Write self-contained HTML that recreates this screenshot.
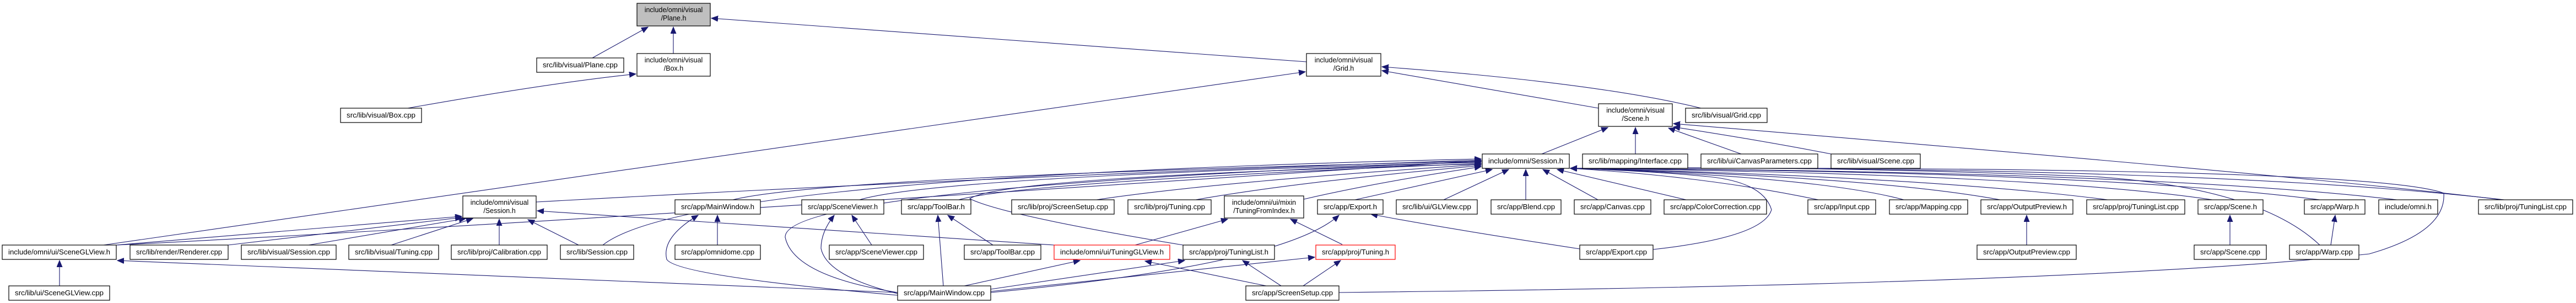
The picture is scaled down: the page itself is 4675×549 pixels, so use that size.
<!DOCTYPE html>
<html><head><meta charset="utf-8"><style>
html,body{margin:0;padding:0;background:#fff;}
svg{display:block;}
text{font-family:"Liberation Sans",sans-serif;font-size:12.5px;fill:#000;text-anchor:middle;}
.n{fill:#fff;stroke:#000;stroke-width:1.2;}
.r{fill:#fff;stroke:#ff0000;stroke-width:1.2;}
.g{fill:#bfbfbf;stroke:#000;stroke-width:1.2;}
path,line{fill:none;stroke:#191970;stroke-width:1.1;}
</style></head><body>
<svg width="4675" height="549" viewBox="0 0 4675 549" xmlns="http://www.w3.org/2000/svg">
<defs>
<marker id="a" markerUnits="userSpaceOnUse" markerWidth="14" markerHeight="12" refX="12" refY="5" orient="auto">
<path d="M0,0 L12,5 L0,10 Z" style="fill:#191970;stroke:#191970;stroke-width:1"/>
</marker>
</defs>
<g marker-end="url(#a)">
<!-- Plane.h -->
<line x1="1075" y1="105" x2="1176" y2="49"/>
<line x1="1222" y1="97" x2="1222" y2="49"/>
<path d="M2371,112 L1291,33"/>
<!-- Box.h -->
<path d="M740,196 Q1000,150 1154,134"/>
<!-- Grid.h -->
<path d="M188,444 L2369,130"/>
<path d="M2901,196 L2508,128"/>
<path d="M3087,196 Q2900,150 2508,121"/>
<!-- Scene.h -->
<line x1="2798" y1="279" x2="2918" y2="231"/>
<line x1="2968" y1="279" x2="2968" y2="231"/>
<line x1="3160" y1="279" x2="3028" y2="232"/>
<path d="M3323,279 Q3200,255 3037,230"/>
<path d="M4540,362 Q4200,320 3037,224"/>
<!-- omni/Session.h left side -->
<path d="M973,366 Q1800,320 2688,290"/>
<path d="M1330,362 Q1500,320 2688,292"/>
<path d="M1560,362 Q1700,320 2688,294"/>
<path d="M1740,362 Q1850,330 2688,296"/>
<path d="M1990,362 Q2200,330 2688,298"/>
<path d="M2170,362 Q2350,330 2688,300"/>
<path d="M2366,361 Q2500,330 2688,302"/>
<path d="M1094,444 Q1250,320 2688,288"/>
<path d="M211,444 Q900,410 2688,291"/>
<path d="M2147,444 Q1820,390 1760,360 Q1820,320 2688,297"/>
<path d="M1629,530 Q1440,500 1425,430 Q1420,340 2688,293"/>
<!-- omni/Session.h bottom -->
<line x1="2459" y1="362" x2="2708" y2="307"/>
<line x1="2620" y1="362" x2="2738" y2="307"/>
<line x1="2769" y1="362" x2="2769" y2="307"/>
<line x1="2900" y1="362" x2="2800" y2="307"/>
<line x1="3060" y1="362" x2="2826" y2="307"/>
<!-- omni/Session.h right side -->
<path d="M3300,362 Q3100,320 2850,305"/>
<path d="M3455,362 Q3300,320 2850,305"/>
<path d="M3630,362 Q3400,320 2850,305"/>
<path d="M3825,362 Q3500,320 2850,305"/>
<path d="M4015,362 Q3700,315 2850,305"/>
<path d="M4210,362 Q3800,310 2850,305"/>
<path d="M4350,362 Q3900,310 2850,305"/>
<path d="M4545,362 Q4000,300 2850,305"/>
<path d="M4210,444 Q4100,340 3800,320 Q3300,300 2850,305"/>
<path d="M2430,530 Q3800,515 4300,460 Q4440,420 4435,350 Q4300,300 2850,305"/>
<path d="M3000,452 Q3200,430 3215,380 Q3200,330 3100,320 Q3000,310 2850,305"/>
<!-- visual/Session.h -->
<path d="M211,444 Q500,420 838,392"/>
<path d="M414,444 L838,394"/>
<path d="M560,444 L845,396"/>
<path d="M710,444 L858,396"/>
<line x1="906" y1="444" x2="906" y2="397"/>
<path d="M1050,444 L958,398"/>
<path d="M1913,444 L975,382"/>
<!-- SceneGLView.h -->
<line x1="108" y1="518" x2="108" y2="472"/>
<path d="M1629,530 L213,472"/>
<!-- MainWindow.h -->
<line x1="1302" y1="444" x2="1302" y2="390"/>
<path d="M1629,535 Q1230,500 1210,470 Q1200,430 1267,390"/>
<!-- SceneViewer.h -->
<line x1="1582" y1="444" x2="1546" y2="390"/>
<path d="M1629,532 Q1500,500 1490,450 Q1490,420 1514,390"/>
<!-- ToolBar.h -->
<line x1="1802" y1="444" x2="1720" y2="390"/>
<line x1="1712" y1="518" x2="1702" y2="390"/>
<!-- TuningFromIndex.h -->
<line x1="2060" y1="444" x2="2228" y2="397"/>
<line x1="2436" y1="443" x2="2342" y2="397"/>
<!-- Export.h -->
<path d="M1798,530 Q2330,480 2430,390"/>
<path d="M2867,451 Q2600,410 2488,388"/>
<!-- TuningGLView.h -->
<line x1="1750" y1="518" x2="1960" y2="472"/>
<line x1="2298" y1="518" x2="2078" y2="473"/>
<!-- TuningList.h -->
<line x1="1798" y1="524" x2="2150" y2="472"/>
<line x1="2325" y1="518" x2="2255" y2="472"/>
<!-- Tuning.h -->
<line x1="1798" y1="528" x2="2386" y2="466"/>
<line x1="2365" y1="518" x2="2433" y2="472"/>
<!-- leaf pairs -->
<line x1="3678" y1="444" x2="3678" y2="390"/>
<line x1="4047" y1="444" x2="4047" y2="390"/>
<line x1="4230" y1="444" x2="4238" y2="390"/>
</g>

<!-- nodes -->
<rect class="g" x="1156" y="6" width="133" height="41"/><text x="1222.5" y="22">include/omni/visual</text><text x="1222.5" y="37">/Plane.h</text>
<rect class="n" x="974" y="105" width="158" height="26"/><text x="1053" y="122" textLength="136" lengthAdjust="spacingAndGlyphs">src/lib/visual/Plane.cpp</text>
<rect class="n" x="1156" y="97" width="133" height="41"/><text x="1222.5" y="113">include/omni/visual</text><text x="1222.5" y="128">/Box.h</text>
<rect class="n" x="2371" y="97" width="135" height="41"/><text x="2438.5" y="113">include/omni/visual</text><text x="2438.5" y="128">/Grid.h</text>
<rect class="n" x="618" y="196" width="147" height="26"/><text x="691.5" y="213" textLength="125" lengthAdjust="spacingAndGlyphs">src/lib/visual/Box.cpp</text>
<rect class="n" x="2901" y="188" width="134" height="41"/><text x="2968" y="204">include/omni/visual</text><text x="2968" y="219">/Scene.h</text>
<rect class="n" x="3059" y="196" width="148" height="26"/><text x="3133" y="213" textLength="126" lengthAdjust="spacingAndGlyphs">src/lib/visual/Grid.cpp</text>

<rect class="n" x="2690" y="279" width="158" height="26"/><text x="2769" y="296" textLength="136" lengthAdjust="spacingAndGlyphs">include/omni/Session.h</text>
<rect class="n" x="2872" y="279" width="191" height="26"/><text x="2967.5" y="296" textLength="169" lengthAdjust="spacingAndGlyphs">src/lib/mapping/Interface.cpp</text>
<rect class="n" x="3087" y="279" width="212" height="26"/><text x="3193" y="296" textLength="190" lengthAdjust="spacingAndGlyphs">src/lib/ui/CanvasParameters.cpp</text>
<rect class="n" x="3323" y="279" width="162" height="26"/><text x="3404" y="296" textLength="140" lengthAdjust="spacingAndGlyphs">src/lib/visual/Scene.cpp</text>

<rect class="n" x="840" y="355" width="133" height="40"/><text x="906.5" y="371">include/omni/visual</text><text x="906.5" y="386">/Session.h</text>
<rect class="n" x="1225" y="362" width="155" height="26"/><text x="1302.5" y="379" textLength="133" lengthAdjust="spacingAndGlyphs">src/app/MainWindow.h</text>
<rect class="n" x="1455" y="362" width="149" height="26"/><text x="1529.5" y="379" textLength="127" lengthAdjust="spacingAndGlyphs">src/app/SceneViewer.h</text>
<rect class="n" x="1636" y="362" width="126" height="26"/><text x="1699" y="379" textLength="104" lengthAdjust="spacingAndGlyphs">src/app/ToolBar.h</text>
<rect class="n" x="1836" y="362" width="186" height="26"/><text x="1929" y="379" textLength="164" lengthAdjust="spacingAndGlyphs">src/lib/proj/ScreenSetup.cpp</text>
<rect class="n" x="2047" y="362" width="151" height="26"/><text x="2122.5" y="379" textLength="129" lengthAdjust="spacingAndGlyphs">src/lib/proj/Tuning.cpp</text>
<rect class="n" x="2222" y="355" width="144" height="40"/><text x="2294" y="371">include/omni/ui/mixin</text><text x="2294" y="386">/TuningFromIndex.h</text>
<rect class="n" x="2391" y="362" width="119" height="26"/><text x="2450.5" y="379" textLength="97" lengthAdjust="spacingAndGlyphs">src/app/Export.h</text>
<rect class="n" x="2534" y="362" width="147" height="26"/><text x="2607.5" y="379" textLength="125" lengthAdjust="spacingAndGlyphs">src/lib/ui/GLView.cpp</text>
<rect class="n" x="2706" y="362" width="127" height="26"/><text x="2769.5" y="379" textLength="105" lengthAdjust="spacingAndGlyphs">src/app/Blend.cpp</text>
<rect class="n" x="2857" y="362" width="139" height="26"/><text x="2926.5" y="379" textLength="117" lengthAdjust="spacingAndGlyphs">src/app/Canvas.cpp</text>
<rect class="n" x="3020" y="362" width="186" height="26"/><text x="3113" y="379" textLength="164" lengthAdjust="spacingAndGlyphs">src/app/ColorCorrection.cpp</text>
<rect class="n" x="3281" y="362" width="123" height="26"/><text x="3342.5" y="379" textLength="101" lengthAdjust="spacingAndGlyphs">src/app/Input.cpp</text>
<rect class="n" x="3429" y="362" width="142" height="26"/><text x="3500" y="379" textLength="120" lengthAdjust="spacingAndGlyphs">src/app/Mapping.cpp</text>
<rect class="n" x="3595" y="362" width="167" height="26"/><text x="3678.5" y="379" textLength="145" lengthAdjust="spacingAndGlyphs">src/app/OutputPreview.h</text>
<rect class="n" x="3787" y="362" width="178" height="26"/><text x="3876" y="379" textLength="156" lengthAdjust="spacingAndGlyphs">src/app/proj/TuningList.cpp</text>
<rect class="n" x="3989" y="362" width="118" height="26"/><text x="4048" y="379" textLength="96" lengthAdjust="spacingAndGlyphs">src/app/Scene.h</text>
<rect class="n" x="4182" y="362" width="110" height="26"/><text x="4237" y="379" textLength="88" lengthAdjust="spacingAndGlyphs">src/app/Warp.h</text>
<rect class="n" x="4317" y="362" width="107" height="26"/><text x="4370.5" y="379" textLength="85" lengthAdjust="spacingAndGlyphs">include/omni.h</text>
<rect class="n" x="4498" y="362" width="171" height="26"/><text x="4583.5" y="379" textLength="149" lengthAdjust="spacingAndGlyphs">src/lib/proj/TuningList.cpp</text>

<rect class="n" x="4" y="444" width="207" height="26"/><text x="107.5" y="461" textLength="185" lengthAdjust="spacingAndGlyphs">include/omni/ui/SceneGLView.h</text>
<rect class="n" x="236" y="444" width="178" height="26"/><text x="325" y="461" textLength="156" lengthAdjust="spacingAndGlyphs">src/lib/render/Renderer.cpp</text>
<rect class="n" x="438" y="444" width="172" height="26"/><text x="524" y="461" textLength="150" lengthAdjust="spacingAndGlyphs">src/lib/visual/Session.cpp</text>
<rect class="n" x="633" y="444" width="163" height="26"/><text x="714.5" y="461" textLength="141" lengthAdjust="spacingAndGlyphs">src/lib/visual/Tuning.cpp</text>
<rect class="n" x="819" y="444" width="174" height="26"/><text x="906" y="461" textLength="152" lengthAdjust="spacingAndGlyphs">src/lib/proj/Calibration.cpp</text>
<rect class="n" x="1017" y="444" width="133" height="26"/><text x="1083.5" y="461" textLength="111" lengthAdjust="spacingAndGlyphs">src/lib/Session.cpp</text>
<rect class="n" x="1225" y="444" width="155" height="26"/><text x="1302.5" y="461" textLength="133" lengthAdjust="spacingAndGlyphs">src/app/omnidome.cpp</text>
<rect class="n" x="1505" y="444" width="171" height="26"/><text x="1590.5" y="461" textLength="149" lengthAdjust="spacingAndGlyphs">src/app/SceneViewer.cpp</text>
<rect class="n" x="1750" y="444" width="139" height="26"/><text x="1819.5" y="461" textLength="117" lengthAdjust="spacingAndGlyphs">src/app/ToolBar.cpp</text>
<rect class="r" x="1913" y="444" width="210" height="26"/><text x="2018" y="461" textLength="188" lengthAdjust="spacingAndGlyphs">include/omni/ui/TuningGLView.h</text>
<rect class="n" x="2147" y="444" width="166" height="26"/><text x="2230" y="461" textLength="144" lengthAdjust="spacingAndGlyphs">src/app/proj/TuningList.h</text>
<rect class="r" x="2388" y="444" width="144" height="26"/><text x="2460" y="461" textLength="122" lengthAdjust="spacingAndGlyphs">src/app/proj/Tuning.h</text>
<rect class="n" x="2867" y="444" width="133" height="26"/><text x="2933.5" y="461" textLength="111" lengthAdjust="spacingAndGlyphs">src/app/Export.cpp</text>
<rect class="n" x="3588" y="444" width="180" height="26"/><text x="3678" y="461" textLength="158" lengthAdjust="spacingAndGlyphs">src/app/OutputPreview.cpp</text>
<rect class="n" x="3982" y="444" width="131" height="26"/><text x="4047.5" y="461" textLength="109" lengthAdjust="spacingAndGlyphs">src/app/Scene.cpp</text>
<rect class="n" x="4155" y="444" width="126" height="26"/><text x="4218" y="461" textLength="104" lengthAdjust="spacingAndGlyphs">src/app/Warp.cpp</text>

<rect class="n" x="16" y="518" width="183" height="26"/><text x="107.5" y="535" textLength="161" lengthAdjust="spacingAndGlyphs">src/lib/ui/SceneGLView.cpp</text>
<rect class="n" x="1629" y="518" width="169" height="26"/><text x="1713.5" y="535" textLength="147" lengthAdjust="spacingAndGlyphs">src/app/MainWindow.cpp</text>
<rect class="n" x="2261" y="518" width="169" height="26"/><text x="2345.5" y="535" textLength="147" lengthAdjust="spacingAndGlyphs">src/app/ScreenSetup.cpp</text>
</svg>
</body></html>
